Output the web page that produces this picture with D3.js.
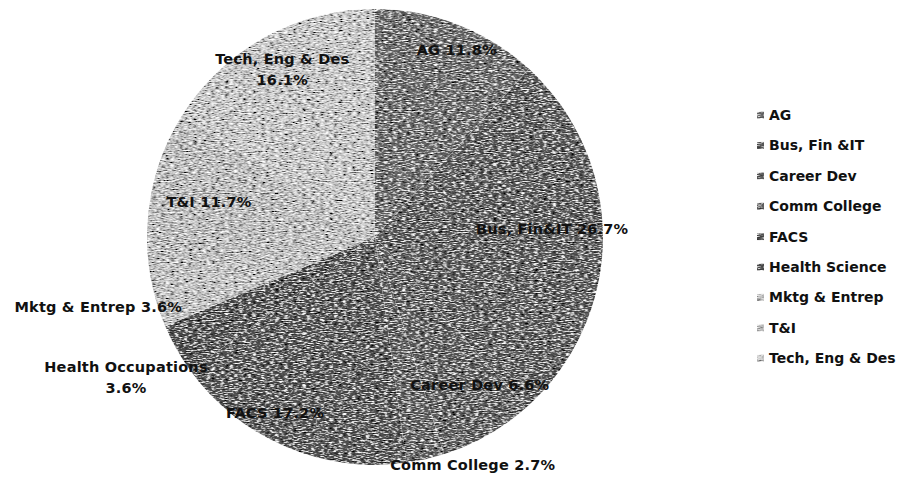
<!DOCTYPE html>
<html><head><meta charset="utf-8">
<script src="https://cdn.jsdelivr.net/npm/d3@7/dist/d3.min.js"></script>
<style>
html,body{margin:0;padding:0;background:#fff;}
svg{display:block;}
text{font-family:"DejaVu Sans","Lato",sans-serif;font-weight:700;fill:#111;}
</style></head>
<body>
<svg id="chart" width="904" height="477"></svg>
<script>
// ---- data ----
const categories = ["AG","Bus, Fin &IT","Career Dev","Comm College","FACS","Health Science","Mktg & Entrep","T&I","Tech, Eng & Des"];
const sliceLabels = [["AG 11.8%"],["Bus, Fin&IT 26.7%"],["Career Dev 6.6%"],["Comm College 2.7%"],["FACS 17.2%"],["Health Occupations","3.6%"],["Mktg & Entrep 3.6%"],["T&I 11.7%"],["Tech, Eng & Des","16.1%"]];
const values = [11.8, 26.7, 6.6, 2.7, 17.2, 3.6, 3.6, 11.7, 16.1];
const colors = ["#6e6e6e","#5e5e5e","#606060","#646464","#585858","#525252","#c4c4c4","#c0c0c0","#cacaca"];
// label placement: [radius fraction, dx, dy]
const labelPlace = [[0.88,9,0],[0.755,5,-10],[0.746,21,0],[1.025,46,0],[0.84,-25,0],[1.255,0,0],[1.07,-43,0],[0.80,13,0],[0.84,0,0]];

const svg = d3.select("#chart");
const cx = 375, cy = 237, R = 228;

// texture filter
const defs = svg.append("defs");
const f = defs.append("filter").attr("id","tex").attr("x","0").attr("y","0").attr("width","1").attr("height","1");
f.append("feTurbulence").attr("type","fractalNoise").attr("baseFrequency","0.22 0.9").attr("numOctaves",2).attr("seed",4).attr("result","n");
f.append("feColorMatrix").attr("in","n").attr("type","matrix")
 .attr("values","1.7 0 0 0 -0.35  1.7 0 0 0 -0.35  1.7 0 0 0 -0.35  0 0 0 0 1").attr("result","g");
f.append("feBlend").attr("in","g").attr("in2","SourceGraphic").attr("mode","hard-light").attr("result","b");
f.append("feComposite").attr("in","b").attr("in2","SourceAlpha").attr("operator","in");

const pie = d3.pie().sort(null).value(d => d);
const arcs = pie(values);
const arc = d3.arc().innerRadius(0).outerRadius(R);

const g = svg.append("g").attr("transform",`translate(${cx},${cy})`);
g.append("g").attr("filter","url(#tex)")
 .selectAll("path").data(arcs).join("path")
 .attr("d",arc).attr("fill",(d,i)=>colors[i]);

// labels
g.selectAll("text.lbl").data(arcs).join("text").attr("class","lbl")
 .attr("text-anchor","middle").attr("font-size",14.5).attr("letter-spacing",0.2)
 .each(function(d,i){
   const a = (d.startAngle+d.endAngle)/2;
   const r = labelPlace[i][0]*R;
   const x = Math.sin(a)*r + labelPlace[i][1];
   const y = -Math.cos(a)*r + labelPlace[i][2];
   const lines = sliceLabels[i];
   const t = d3.select(this);
   lines.forEach((s,k)=>{
     t.append("tspan").attr("x",x).attr("y", y + (k-(lines.length-1)/2)*21 + 5).text(s);
   });
 });

// legend
const leg = svg.append("g").attr("transform","translate(757,115)");
const ly = d3.scalePoint().domain(categories).range([0, 8*30.4]);
const items = leg.selectAll("g").data(categories).join("g").attr("transform",d=>`translate(0,${ly(d)})`);
items.append("rect").attr("x",0).attr("y",-3.5).attr("width",7).attr("height",7)
 .attr("fill",(d,i)=>colors[i]).attr("filter","url(#tex)");
items.append("text").attr("x",12).attr("y",5).attr("font-size",14).text(d=>d);
</script>
</body></html>
